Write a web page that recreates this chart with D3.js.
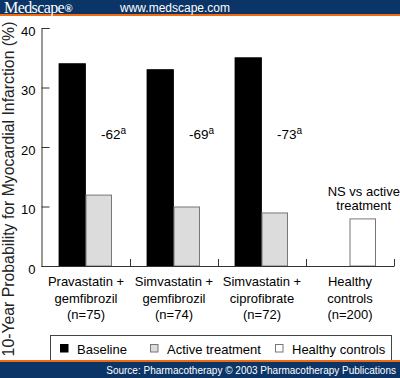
<!DOCTYPE html>
<html><head><meta charset="utf-8">
<script src="https://cdn.jsdelivr.net/npm/d3@7"></script>
<style>
html,body{margin:0;padding:0;background:#fff;}
svg{display:block;font-family:"Liberation Sans",Arial,sans-serif;}
</style></head>
<body>
<svg id="chart" width="400" height="378"></svg>
<script>
const categories = [
  ["Pravastatin +", "gemfibrozil", "(n=75)"],
  ["Simvastatin +", "gemfibrozil", "(n=74)"],
  ["Simvastatin +", "ciprofibrate", "(n=72)"],
  ["Healthy", "controls", "(n=200)"]
];
const catKeys = ["pg", "sg", "sc", "hc"];
const baseline = [34, 33, 35, null];
const activeTreatment = [12, 10, 9, null];
const healthyControls = [null, null, null, 8];
const reductions = ["-62", "-69", "-73", null];
const yTicks = [0, 10, 20, 30, 40];
const legendLabels = ["Baseline", "Active treatment", "Healthy controls"];

const svg = d3.select("#chart");
const axisColor = "#333";

// header
svg.append("rect").attr("x",0).attr("y",0).attr("width",400).attr("height",14).attr("fill","#0b3467");
svg.append("rect").attr("x",0).attr("y",14).attr("width",400).attr("height",2).attr("fill","#f26a10");
svg.append("text").attr("x",4).attr("y",12.5).attr("fill","#fff")
  .style("font-family","'Liberation Serif','DejaVu Serif',serif").style("font-size","16px")
  .style("letter-spacing","-0.6px")
  .text("Medscape").append("tspan").style("font-size","11px").style("font-weight","bold").attr("dx",0.5).attr("dy",-1).text("®");
svg.append("text").attr("x",120).attr("y",11.5).attr("fill","#fff").style("font-size","12px").text("www.medscape.com");

const x = d3.scaleBand().domain(catKeys).range([42, 394]).padding(0);
const x1 = d3.scaleBand().domain(["baseline","active"]).range([17, 70]).padding(0);
const y = d3.scaleLinear().domain([0, 40]).range([266, 28]);

const g = svg.append("g");

// bars
const rows = catKeys.map((k,i)=>({k, b: baseline[i], a: activeTreatment[i], h: healthyControls[i], r: reductions[i]}));
g.selectAll(".bb").data(rows.filter(d=>d.b!=null)).join("rect")
  .attr("x", d=>x(d.k)+x1("baseline")).attr("width", x1.bandwidth())
  .attr("y", d=>y(d.b)).attr("height", d=>y(0)-y(d.b))
  .attr("fill","#000").attr("stroke","#000").attr("stroke-width",0.8);
g.selectAll(".ab").data(rows.filter(d=>d.a!=null)).join("rect")
  .attr("x", d=>x(d.k)+x1("active")+0.5).attr("width", x1.bandwidth()-1)
  .attr("y", d=>y(d.a)+0.5).attr("height", d=>y(0)-y(d.a)-0.5)
  .attr("fill","#dcdcdc").attr("stroke","#777").attr("stroke-width",1);
g.selectAll(".hb").data(rows.filter(d=>d.h!=null)).join("rect")
  .attr("x", d=>x(d.k)+x1("active")+0.5).attr("width", x1.bandwidth()-1)
  .attr("y", d=>y(d.h)+0.5).attr("height", d=>y(0)-y(d.h)-0.5)
  .attr("fill","#fff").attr("stroke","#777").attr("stroke-width",1);

// y axis
const yAxis = d3.axisLeft(y).tickValues(yTicks).tickSize(-8).tickPadding(6).tickFormat(d3.format("d"));
const ya = svg.append("g").attr("transform","translate(41.5,0)").call(yAxis);
ya.select(".domain").attr("stroke",axisColor);
ya.selectAll(".tick line").attr("stroke",axisColor);
ya.selectAll(".tick text").attr("fill","#000").style("font-size","13px").attr("dy","0.55em").style("font-family","'Liberation Sans',Arial,sans-serif");

// x axis
svg.append("line").attr("x1",41.5).attr("x2",x.range()[1]+0.5).attr("y1",y(0)+0.5).attr("y2",y(0)+0.5).attr("stroke",axisColor);
svg.selectAll(".xt").data(catKeys).join("line")
  .attr("x1", d=>x(d)+x.bandwidth()+0.5).attr("x2", d=>x(d)+x.bandwidth()+0.5)
  .attr("y1", y(0)).attr("y2", y(0)-7).attr("stroke",axisColor);

// category labels
const cl = svg.selectAll(".cl").data(catKeys).join("text")
  .attr("text-anchor","middle").style("font-size","13px").attr("fill","#000");
cl.each(function(d,i){
  const t = d3.select(this);
  categories[i].forEach((line,j)=>{
    t.append("tspan").attr("x", x(d)+x.bandwidth()/2).attr("y", 286 + j*16.5).text(line);
  });
});

// reduction annotations
const ann = svg.selectAll(".ann").data(rows.filter(d=>d.r!=null)).join("text")
  .attr("x", d=>x(d.k)+x.bandwidth()/2+15).attr("y", y(22)+4)
  .style("font-size","13.5px").attr("fill","#000").text(d=>d.r);
ann.append("tspan").attr("dy",-5).style("font-size","10px").text("a");

// NS annotation
const ns = svg.append("text").attr("text-anchor","middle").style("font-size","13px").attr("fill","#000");
ns.append("tspan").attr("x", x("hc")+x1("active")+x1.bandwidth()/2+1).attr("y", y(12)+1).text("NS vs active");
ns.append("tspan").attr("x", x("hc")+x1("active")+x1.bandwidth()/2+1).attr("y", y(12)+15).text("treatment");

// y title
svg.append("text").attr("transform","translate(14,189) rotate(-90)").attr("text-anchor","middle")
  .style("font-size","15.8px").attr("fill","#222").text("10-Year Probability for Myocardial Infarction (%)");

// legend
svg.append("rect").attr("x",50.5).attr("y",335.5).attr("width",341).attr("height",30).attr("fill","#fff").attr("stroke","#444");
const legFills = ["#000","#dcdcdc","#fff"];
const legStroke = ["#000","#777","#777"];
const legX = [60, 150, 275];
legendLabels.forEach((lab,i)=>{
  svg.append("rect").attr("x",legX[i]+0.5).attr("y",344.5).attr("width",7.5).attr("height",7.5)
    .attr("fill",legFills[i]).attr("stroke",legStroke[i]);
  svg.append("text").attr("x",legX[i]+17).attr("y",354).style("font-size","13px").attr("fill","#000").text(lab);
});

// footer
svg.append("rect").attr("x",0).attr("y",360).attr("width",400).attr("height",2).attr("fill","#f26a10");
svg.append("rect").attr("x",0).attr("y",362).attr("width",400).attr("height",16).attr("fill","#0b3467");
svg.append("text").attr("x",396).attr("y",374).attr("text-anchor","end").attr("fill","#fff")
  .style("font-size","10px").text("Source: Pharmacotherapy © 2003 Pharmacotherapy Publications");
</script>
</body></html>
